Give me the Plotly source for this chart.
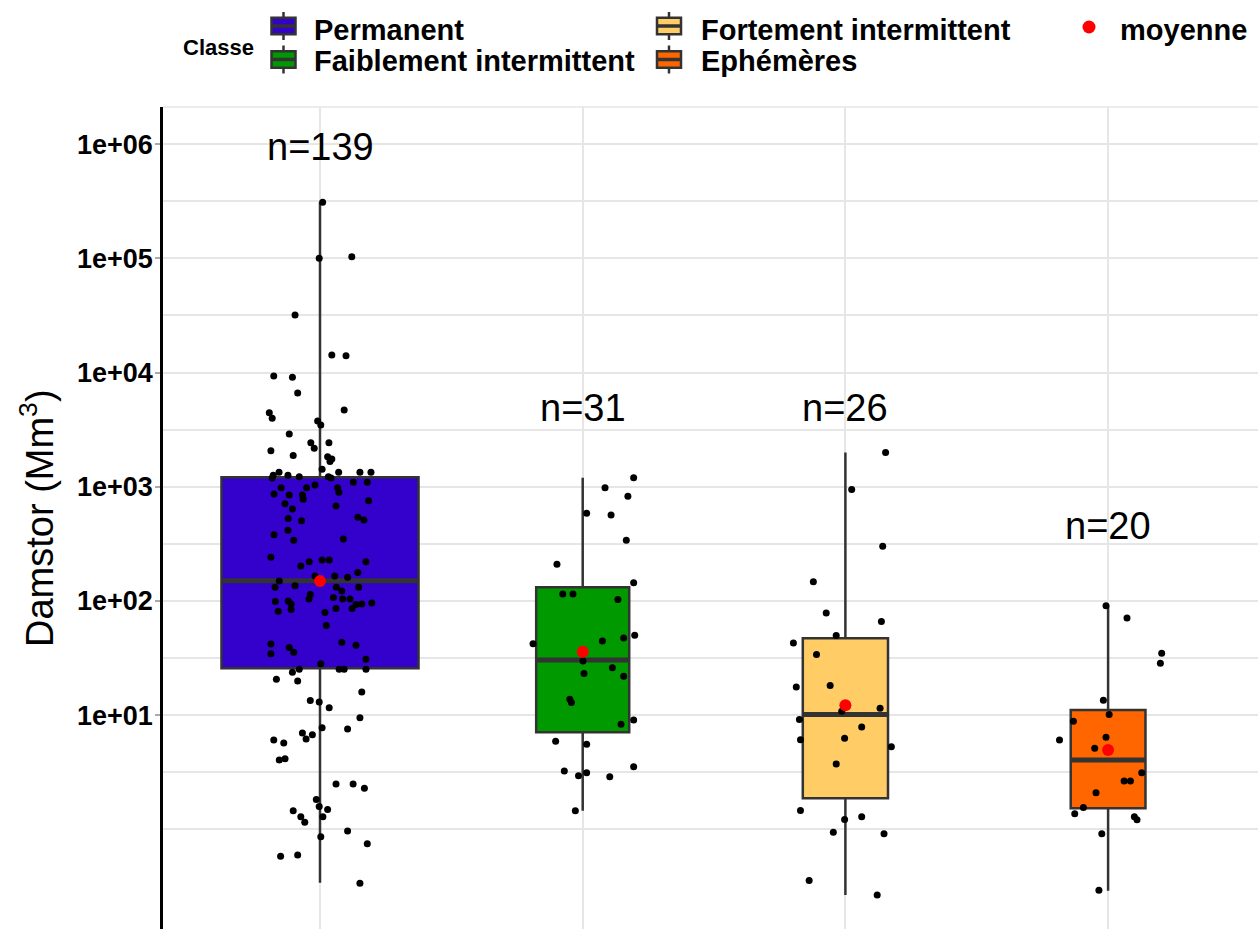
import math
import plotly.graph_objects as go

# ---------------- data ----------------
classes = ["Permanent", "Faiblement intermittent", "Fortement intermittent", "Ephémères"]
positions = [1, 2, 3, 4]
counts = [139, 31, 26, 20]
fill_colors = ["#3300CC", "#009900", "#FFCC66", "#FF6600"]

# box statistics (Mm3)
whisker_low = [0.34, 1.45, 0.266, 0.29]
q1 = [25.7, 7.06, 1.87, 1.53]
medians = [150, 30.3, 10.1, 4.05]
q3 = [1208, 131.5, 47.0, 11.1]
whisker_high = [3.1e5, 1200, 1990, 90.8]
means = [149, 35.9, 12.2, 4.94]

n_labels = ["n=139", "n=31", "n=26", "n=20"]
n_label_y = [9.4e5, 4.9e3, 4.9e3, 4.5e2]

y_tick_vals = [1e1, 1e2, 1e3, 1e4, 1e5, 1e6]
y_tick_text = ["1e+01", "1e+02", "1e+03", "1e+04", "1e+05", "1e+06"]
y_minor_vals = [1e0, 10 ** 0.5, 10 ** 1.5, 10 ** 2.5, 10 ** 3.5, 10 ** 4.5, 10 ** 5.5]

perm_vals = [3.1e5, 1.0e5, 1.03e5, 3.18e4, 1.42e4, 1.40e4, 9310, 9080, 6610, 4450,
             3970, 4700, 3760, 3470, 2890, 2060, 1880, 2430, 2170, 2430,
             1830, 1750, 1660, 1420, 1260, 1340, 1190, 1260, 1220, 1220,
             1190, 1340, 1340, 1340, 863, 980, 845, 710, 638, 845,
             776, 980, 1035, 980, 893, 678, 1094, 1094, 753, 528,
             504, 540, 511, 380, 415, 340, 348, 241, 202, 220,
             228, 228, 220, 165, 165, 161, 177, 149, 132, 136,
             132, 122, 132, 114, 104, 107, 104, 104, 99, 100,
             94, 94, 93, 96, 81, 84, 86, 86, 79, 61,
             42, 39, 35.5, 43.4, 40.8, 34.5, 30.8, 28.2, 25.2, 25.2,
             25.2, 25.2, 23.7, 20.6, 19.9, 15.9, 13.4, 13.0, 11.6, 9.5,
             7.76, 7.55, 6.97, 6.73, 6.18, 6.05, 5.70, 4.05, 4.15, 2.49,
             2.49, 2.29, 1.82, 1.58, 1.49, 1.45, 1.29, 1.29, 1.15, 0.966,
             0.748, 0.861, 0.581, 0.596, 0.337]
perm_jit = [0.010, -0.003, 0.121, -0.095, 0.045, 0.099, -0.176, -0.105, -0.085, -0.193,
            -0.182, 0.092, -0.009, 0.003, -0.117, -0.187, -0.102, -0.035, -0.022, 0.034,
            0.029, 0.045, 0.038, 0.008, -0.178, -0.156, -0.182, -0.122, -0.079, 0.032,
            0.042, 0.071, 0.152, 0.194, -0.175, -0.148, -0.117, -0.133, -0.105, -0.067,
            -0.064, -0.051, -0.019, 0.067, 0.072, 0.061, 0.127, 0.180, 0.185, -0.121,
            -0.070, 0.144, 0.167, -0.175, -0.122, -0.100, 0.089, -0.187, -0.073, -0.041,
            0.008, 0.035, 0.175, -0.019, 0.056, 0.105, 0.144, -0.155, -0.171, -0.095,
            0.062, 0.083, 0.147, -0.037, -0.042, 0.051, 0.086, 0.114, -0.170, -0.121,
            -0.110, 0.159, 0.137, 0.197, -0.159, -0.110, 0.061, 0.122, 0.019, 0.024,
            -0.187, -0.117, -0.100, 0.083, 0.137, -0.187, 0.175, 0.003, 0.073, 0.092,
            0.175, -0.079, -0.105, -0.166, -0.085, 0.159, -0.037, -0.003, 0.035, 0.152,
            0.008, 0.105, -0.067, -0.029, -0.053, -0.176, -0.138, -0.155, -0.133, 0.061,
            0.126, 0.169, -0.014, -0.003, 0.029, -0.102, 0.011, -0.073, -0.058, 0.105,
            0.180, 0.003, -0.150, -0.085, 0.152]

faib_vals = [1200, 980, 824, 585, 565, 340, 209, 144, 115, 115,
             103, 42.2, 44.6, 47.3, 50.0, 29.8, 23.1, 26.0, 21.9, 13.8,
             12.9, 8.30, 9.06, 5.90, 5.55, 3.24, 2.94, 3.13, 2.89, 3.53, 1.45]
faib_jit = [0.194, 0.085, 0.172, 0.015, 0.108, 0.166, -0.098, 0.194, -0.076, -0.037,
            0.134, -0.189, 0.075, 0.156, 0.198, 0.001, 0.005, 0.113, 0.156, -0.049,
            -0.043, 0.146, 0.194, -0.103, 0.015, -0.070, -0.016, 0.015, 0.103, 0.194, -0.028]

fort_vals = [1990, 946, 301, 147, 78.2, 65.9, 49.7, 42.8, 34.0, 17.6,
             18.2, 11.5, 10.8, 9.14, 7.87, 6.09, 6.27, 5.29, 3.73, 1.46,
             1.22, 1.29, 0.944, 0.912, 0.356, 0.266]
fort_jit = [0.153, 0.024, 0.142, -0.122, -0.073, 0.137, -0.035, -0.198, -0.110, -0.187,
            -0.058, 0.132, -0.014, -0.175, 0.062, -0.171, -0.003, 0.175, -0.035, -0.171,
            -0.003, 0.062, -0.046, 0.147, -0.138, 0.121]

ephe_vals = [90.8, 70.8, 34.8, 28.4, 13.5, 10.1, 8.83, 6.05, 6.40, 5.12,
             3.13, 2.65, 2.65, 2.09, 1.55, 1.37, 1.29, 1.21, 0.914, 0.292]
ephe_jit = [-0.008, 0.072, 0.204, 0.199, -0.018, 0.004, -0.132, -0.185, -0.008, -0.051,
            0.128, 0.061, 0.085, -0.046, -0.094, -0.127, 0.100, 0.110, -0.024, -0.035]

obs_vals = [perm_vals, faib_vals, fort_vals, ephe_vals]
obs_jit = [perm_jit, faib_jit, fort_jit, ephe_jit]

# ---------------- style ----------------
FONT = "Liberation Sans, Arial, sans-serif"
BOX_LINE = "#333333"
GRID = "#E6E6E6"
W, H = 1258, 929
PL, PR, PT, PB = 163, 1258, 107, 929
MAX_WIDTH = 0.75


def px_x(px):
    return (px - PL) / (PR - PL)


def px_y(py):
    return (PB - py) / (PB - PT)


fig = go.Figure()

widths = [MAX_WIDTH * math.sqrt(n / max(counts)) for n in counts]

for i, cls in enumerate(classes):
    fig.add_trace(go.Box(
        x=[positions[i]], q1=[q1[i]], median=[medians[i]], q3=[q3[i]],
        lowerfence=[whisker_low[i]], upperfence=[whisker_high[i]],
        width=widths[i], fillcolor=fill_colors[i],
        line=dict(color=BOX_LINE, width=2.5), whiskerwidth=0,
        boxpoints=False, name=cls, showlegend=False, hoverinfo="skip",
    ))

for i in range(len(classes)):
    fig.add_trace(go.Scatter(
        x=[positions[i] - widths[i] / 2, positions[i] + widths[i] / 2],
        y=[medians[i], medians[i]], mode="lines",
        line=dict(color=BOX_LINE, width=5), showlegend=False, hoverinfo="skip",
    ))

for i in range(len(classes)):
    fig.add_trace(go.Scatter(
        x=[positions[i] + j for j in obs_jit[i]], y=obs_vals[i], mode="markers",
        marker=dict(color="black", size=7), showlegend=False, hoverinfo="skip",
    ))

fig.add_trace(go.Scatter(
    x=positions, y=means, mode="markers", name="moyenne",
    marker=dict(color="#FF0000", size=12), showlegend=False, hoverinfo="skip",
))

annotations = []
for i in range(len(classes)):
    annotations.append(dict(
        x=positions[i], y=math.log10(n_label_y[i]), xref="x", yref="y",
        text=n_labels[i], showarrow=False, xanchor="center", yanchor="middle",
        font=dict(family=FONT, size=38, color="black"),
    ))

# y-axis title
annotations.append(dict(
    x=px_x(37), y=0.5, xref="paper", yref="paper", text="Damstor (Mm<sup>3</sup>)",
    textangle=-90, showarrow=False, xanchor="center", yanchor="middle",
    font=dict(family=FONT, size=38, color="black"),
))

# ---------------- manual legend ----------------
shapes = []
annotations.append(dict(
    x=px_x(181), y=px_y(47), xref="paper", yref="paper", text="Classe",
    showarrow=False, xanchor="left", yanchor="middle",
    font=dict(family=FONT, size=22, color="black", weight="bold"),
))
key_pos = [(283.5, 26), (283.5, 59.5), (669, 26), (669, 59.5)]
text_pos = [(312, 30), (312, 61), (699, 30), (699, 61)]
for i, cls in enumerate(classes):
    cx, cy = key_pos[i]
    shapes.append(dict(type="line", xref="paper", yref="paper",
                       x0=px_x(cx), x1=px_x(cx), y0=px_y(cy - 14), y1=px_y(cy + 14),
                       line=dict(color=BOX_LINE, width=2.5)))
    shapes.append(dict(type="rect", xref="paper", yref="paper",
                       x0=px_x(cx - 12), x1=px_x(cx + 12), y0=px_y(cy - 8.3), y1=px_y(cy + 8.3),
                       fillcolor=fill_colors[i], line=dict(color=BOX_LINE, width=2.5)))
    shapes.append(dict(type="line", xref="paper", yref="paper",
                       x0=px_x(cx - 12), x1=px_x(cx + 12), y0=px_y(cy), y1=px_y(cy),
                       line=dict(color=BOX_LINE, width=3.5)))
    tx, ty = text_pos[i]
    annotations.append(dict(
        x=px_x(tx), y=px_y(ty), xref="paper", yref="paper", text=cls,
        showarrow=False, xanchor="left", yanchor="middle",
        font=dict(family=FONT, size=29, color="black", weight="bold"),
    ))

shapes.append(dict(type="circle", xref="paper", yref="paper",
                   x0=px_x(1089 - 6.5), x1=px_x(1089 + 6.5), y0=px_y(27 - 6.5), y1=px_y(27 + 6.5),
                   fillcolor="#FF0000", line=dict(width=0)))
annotations.append(dict(
    x=px_x(1118), y=px_y(30), xref="paper", yref="paper", text="moyenne",
    showarrow=False, xanchor="left", yanchor="middle",
    font=dict(family=FONT, size=29, color="black", weight="bold"),
))

# top border of panel
shapes.append(dict(type="line", xref="paper", yref="paper", x0=0, x1=1, y0=1, y1=1,
                   line=dict(color=GRID, width=1.6), layer="below"))

fig.update_layout(
    width=W, height=H,
    margin=dict(l=PL, r=W - PR, t=PT, b=H - PB, pad=0),
    paper_bgcolor="white", plot_bgcolor="white",
    showlegend=False,
    annotations=annotations, shapes=shapes,
    xaxis=dict(
        range=[1 + (PL - 320) / 262.7, 1 + (PR - 320) / 262.7],
        tickvals=positions, showticklabels=False, ticks="",
        showgrid=True, gridcolor=GRID, gridwidth=1.6,
        zeroline=False, showline=False,
    ),
    yaxis=dict(
        type="log",
        range=[(829.3 - PB) / 114.2, (829.3 - PT) / 114.2],
        tickvals=y_tick_vals, ticktext=y_tick_text,
        tickfont=dict(family=FONT, size=27, color="black", weight="bold"),
        ticks="outside", ticklen=5, tickwidth=2, tickcolor="#AAAAAA",
        ticklabelstandoff=-3,
        showgrid=True, gridcolor=GRID, gridwidth=1.6,
        minor=dict(tickvals=y_minor_vals, showgrid=True, gridcolor=GRID, gridwidth=1.6, ticks=""),
        showline=True, linecolor="black", linewidth=2.5,
        zeroline=False,
    ),
)

fig.write_html("out.html", config={"displayModeBar": False},
               post_script="document.body.style.margin='0';")
